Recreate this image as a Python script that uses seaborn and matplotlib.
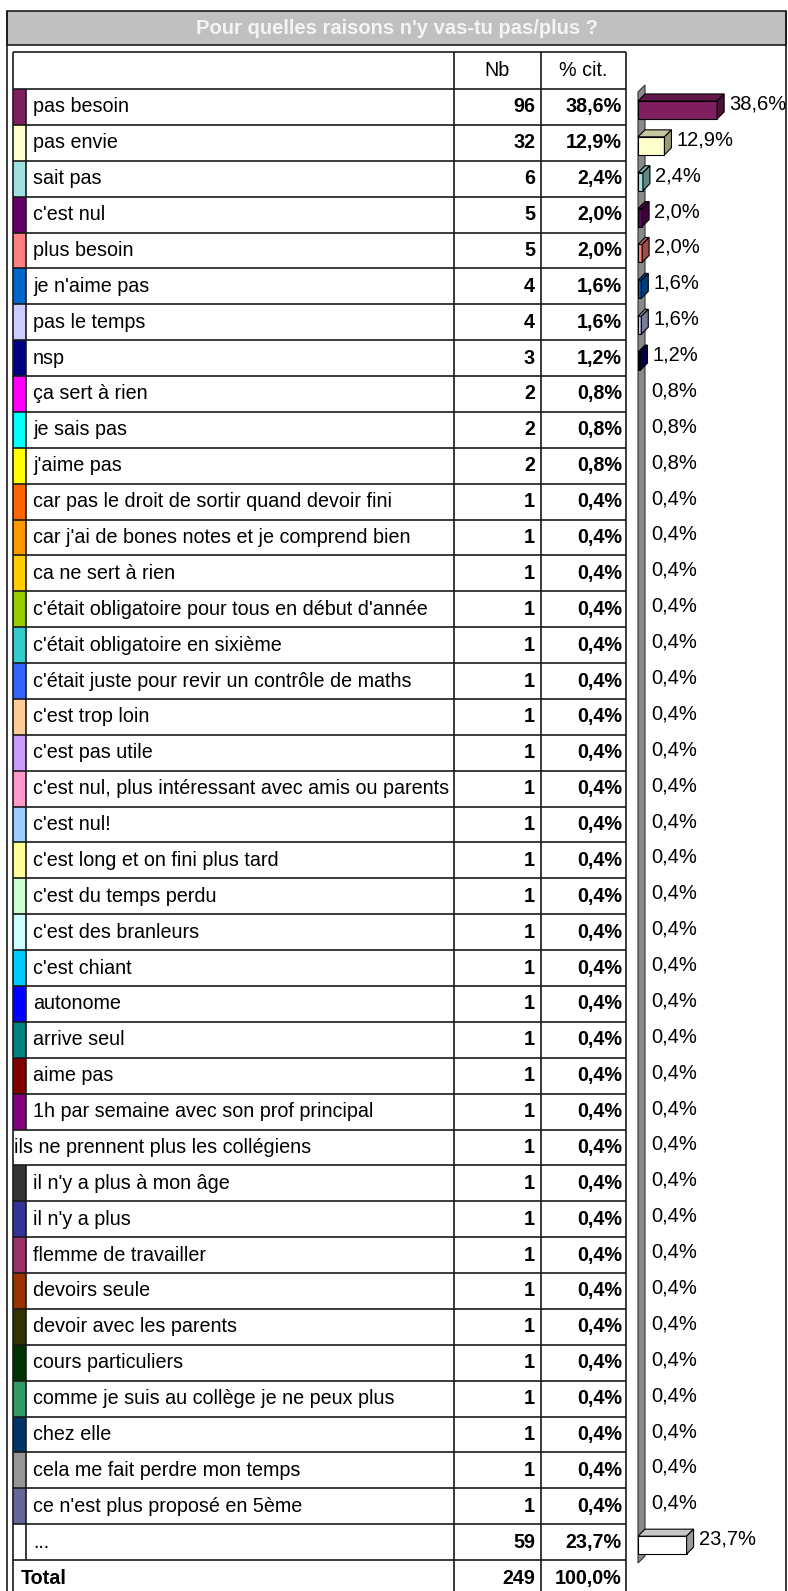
import numpy as np
import matplotlib
matplotlib.use("Agg")
import matplotlib.pyplot as plt
import seaborn as sns
from matplotlib.patches import Rectangle, Polygon
from matplotlib.colors import to_rgb

labels = ["pas besoin", "pas envie", "sait pas", "c'est nul", "plus besoin",
          "je n'aime pas", "pas le temps", "nsp", "ça sert à rien", "je sais pas",
          "j'aime pas", "car pas le droit de sortir quand devoir fini",
          "car j'ai de bones notes et je comprend bien", "ca ne sert à rien",
          "c'était obligatoire pour tous en début d'année",
          "c'était obligatoire en sixième",
          "c'était juste pour revir un contrôle de maths", "c'est trop loin",
          "c'est pas utile", "c'est nul, plus intéressant avec amis ou parents",
          "c'est nul!", "c'est long et on fini plus tard", "c'est du temps perdu",
          "c'est des branleurs", "c'est chiant", "autonome", "arrive seul",
          "aime pas", "1h par semaine avec son prof principal",
          "ils ne prennent plus les collégiens", "il n'y a plus à mon âge",
          "il n'y a plus", "flemme de travailler", "devoirs seule",
          "devoir avec les parents", "cours particuliers",
          "comme je suis au collège je ne peux plus", "chez elle",
          "cela me fait perdre mon temps", "ce n'est plus proposé en 5ème", "..."]
counts = [96, 32, 6, 5, 5, 4, 4, 3, 2, 2, 2] + [1] * 29 + [59]
pcts = [38.6, 12.9, 2.4, 2.0, 2.0, 1.6, 1.6, 1.2, 0.8, 0.8, 0.8] + [0.4] * 29 + [23.7]
colors = ["#7F1F5F", "#FFFFCC", "#A0E0E0", "#660066", "#FF8080", "#0066CC",
          "#CCCCFF", "#000080", "#FF00FF", "#00FFFF", "#FFFF00", "#FF6600",
          "#FF9900", "#FFCC00", "#99CC00", "#33CCCC", "#3366FF", "#FFCC99",
          "#CC99FF", "#FF99CC", "#99CCFF", "#FFFF99", "#CCFFCC", "#CCFFFF",
          "#00CCFF", "#0000FF", "#008080", "#800000", "#800080", "#FFFFFF",
          "#333333", "#333399", "#993366", "#993300", "#333300", "#003300",
          "#339966", "#003366", "#969696", "#666699", "#FFFFFF"]
no_swatch = "ils ne prennent plus les collégiens"
total_n = 249
total_pct = 100.0
title = "Pour quelles raisons n'y vas-tu pas/plus ?"

def fmt(v):
    return f"{v:.1f}%".replace(".", ",")

W, H, DPI = 788, 1591, 100
FS = 14.2
plt.rcParams["font.family"] = ["Liberation Sans", "DejaVu Sans"]
fig = plt.figure(figsize=(W / DPI, H / DPI), dpi=DPI)

# background axes in pixel units for the table
ax = fig.add_axes([0, 0, 1, 1])
ax.set_xlim(0, W)
ax.set_ylim(H, 0)
ax.axis("off")

lc = "#1a1a1a"
lw = 1.2
row_top = 89.0
row_h = 35.88
x_left, x_sw, x_nb, x_pc, x_right = 13, 26, 454, 541, 626

# outer frame + title band
ax.add_patch(Rectangle((7, 11), 779, 34, facecolor="#C0C0C0", edgecolor=lc, lw=lw))
ax.vlines([7, 786], 11, H + 5, color=lc, lw=lw)
ax.text(397, 29, title, ha="center", va="center", fontsize=14.5,
        fontweight="bold", color="#F4F4F4")

# table grid
n = len(labels)
y_end = row_top + (n + 1) * row_h
ax.hlines([52, row_top], x_left, x_right, color=lc, lw=lw)
for i in range(n + 1):
    ax.hlines(row_top + (i + 1) * row_h, x_left, x_right, color=lc, lw=lw)
ax.vlines([x_left, x_nb, x_pc, x_right], 52, y_end, color=lc, lw=lw)

ax.text((x_nb + x_pc) / 2, 71, "Nb", ha="center", va="center", fontsize=FS)
ax.text((x_pc + x_right) / 2, 71, "% cit.", ha="center", va="center", fontsize=FS)

for i, (lab, c, v, col) in enumerate(zip(labels, counts, pcts, colors)):
    y0 = row_top + i * row_h
    yc = y0 + row_h / 2
    if lab == no_swatch:
        ax.text(x_left + 1, yc, lab, ha="left", va="center", fontsize=FS)
    else:
        ax.add_patch(Rectangle((x_left, y0), x_sw - x_left, row_h,
                               facecolor=col, edgecolor="none"))
        ax.vlines(x_sw, y0, y0 + row_h, color=lc, lw=lw)
        ax.text(x_sw + 7, yc, lab, ha="left", va="center", fontsize=FS)
    ax.text(x_pc - 6, yc, str(c), ha="right", va="center", fontsize=FS,
            fontweight="bold")
    ax.text(x_right - 4, yc, fmt(v), ha="right", va="center", fontsize=FS,
            fontweight="bold")

yt = row_top + n * row_h + row_h / 2
ax.text(21, yt, "Total", ha="left", va="center", fontsize=FS, fontweight="bold")
ax.text(x_pc - 6, yt, str(total_n), ha="right", va="center", fontsize=FS,
        fontweight="bold")
ax.text(x_right - 4, yt, fmt(total_pct), ha="right", va="center", fontsize=FS,
        fontweight="bold")

# 3D-ish bar chart on the right
bx_left, bx_right = 638, 788
bx_top = row_top + 3
bx_bot = bx_top + n * row_h
bx = fig.add_axes([bx_left / W, 1 - bx_bot / H, (bx_right - bx_left) / W,
                   (bx_bot - bx_top) / H])
ppu = 2.05
sns.barplot(x=pcts, y=labels, hue=labels, palette=colors, legend=False,
            orient="h", width=0.5, saturation=1, edgecolor="black",
            linewidth=0.8, ax=bx)
bx.set_xlim(0, (bx_right - bx_left) / ppu)
bx.set_ylim(n - 0.5, -0.5)
bx.axis("off")

depth = 7
dx = depth / ppu
dy = depth / row_h

bars = list(bx.patches)
wall = Polygon([(0, n - 0.5), (0, -0.5), (dx, -0.5 - dy), (dx, n - 0.5 - dy)],
               closed=True, facecolor="#8A8A8A", edgecolor="#333333", lw=0.8,
               zorder=0.5, clip_on=False)
bx.add_patch(wall)

px = lambda v: v * 72 / DPI
for p in bars:
    w = p.get_width()
    y0 = p.get_y()
    h = p.get_height()
    p.set_zorder(3)
    if w * ppu >= 2:
        fc = np.array(to_rgb(p.get_facecolor()))
        top = [(0, y0), (w, y0), (w + dx, y0 - dy), (dx, y0 - dy)]
        side = [(w, y0), (w + dx, y0 - dy), (w + dx, y0 + h - dy), (w, y0 + h)]
        bx.add_patch(Polygon(top, closed=True, facecolor=fc * 0.78,
                             edgecolor="black", lw=0.8, zorder=3, clip_on=False))
        bx.add_patch(Polygon(side, closed=True, facecolor=fc * 0.6,
                             edgecolor="black", lw=0.8, zorder=3, clip_on=False))
    else:
        p.set_visible(False)
    bx.annotate(fmt(w), xy=(w, y0 + h / 2), xytext=(px(12), px(6)),
                textcoords="offset points", ha="left", va="center",
                fontsize=14.5, annotation_clip=False)

fig.savefig("out.png", dpi=DPI)
